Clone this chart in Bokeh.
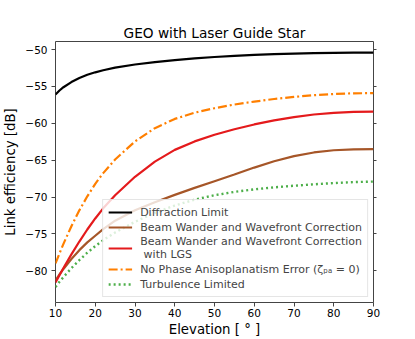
from bokeh.plotting import figure
from bokeh.models import FixedTicker, LinearAxis, Range1d, Legend, LegendItem
from bokeh.embed import file_html
from bokeh.resources import INLINE

elevation = [10, 11, 12, 14, 16, 18, 20, 22, 25, 30, 35, 40, 45, 50, 55, 60, 65, 70, 75, 80, 85, 90]
diffraction = [-56.1, -55.55, -55.1, -54.4, -53.85, -53.42, -53.08, -52.8, -52.45, -52.02, -51.7,
               -51.43, -51.2, -51.0, -50.84, -50.72, -50.62, -50.54, -50.48, -50.44, -50.41, -50.4]
beam_wander = [-81.3, -80.5, -79.75, -78.4, -77.2, -76.15, -75.25, -74.35, -73.2, -71.8, -70.7,
               -69.7, -68.75, -67.85, -66.95, -66.0, -65.15, -64.45, -63.95, -63.65, -63.52, -63.5]
beam_wander_lgs = [-81.6, -80.6, -79.63, -77.78, -76.03, -74.4, -72.9, -71.53, -69.75, -67.25, -65.2,
                   -63.6, -62.45, -61.55, -60.8, -60.15, -59.6, -59.15, -58.8, -58.57, -58.44, -58.4]
no_phase_aniso = [-79.0, -77.65, -76.35, -73.95, -71.8, -69.9, -68.2, -66.75, -64.9, -62.45, -60.65,
                  -59.4, -58.55, -57.95, -57.45, -57.05, -56.7, -56.42, -56.18, -56.02, -55.93, -55.9]
turbulence = [-82.2, -81.5, -80.85, -79.65, -78.55, -77.55, -76.65, -75.85, -74.8, -73.35, -72.15,
              -71.15, -70.35, -69.75, -69.3, -68.95, -68.68, -68.46, -68.27, -68.1, -67.97, -67.9]

x_ticks = [10, 20, 30, 40, 50, 60, 70, 80, 90]
y_ticks = [-80, -75, -70, -65, -60, -55, -50]
y_tick_labels = ["\u221280", "\u221275", "\u221270", "\u221265", "\u221260", "\u221255", "\u221250"]

labels = ["Diffraction Limit",
          "Beam Wander and Wavefront Correction",
          "Beam Wander and Wavefront Correction\n with LGS",
          "No Phase Anisoplanatism Error (\u03b6\u209a\u2090 = 0)",
          "Turbulence Limited"]

p = figure(width=415, height=339, output_backend="svg", toolbar_location=None,
           x_range=Range1d(10, 90), y_range=Range1d(-84.3, -48.9),
           title="GEO with Laser Guide Star",
           min_border_left=52, min_border_right=42, min_border_top=41, min_border_bottom=37)

p.title.align = "center"
p.title.text_font = "DejaVu Sans"
p.title.text_font_style = "normal"
p.title.text_font_size = "13.7px"
p.title.text_color = "black"
p.title.standoff = 1

p.xgrid.visible = False
p.ygrid.visible = False
p.outline_line_color = "#444444"
p.outline_line_width = 1
p.background_fill_color = "white"
p.border_fill_color = "white"

for ax in p.xaxis + p.yaxis:
    ax.axis_line_color = None
    ax.major_tick_line_color = "#444444"
    ax.major_tick_in = 0
    ax.major_tick_out = 4
    ax.minor_tick_line_color = None
    ax.major_label_text_font = "DejaVu Sans"
    ax.major_label_text_font_size = "10.5px"
    ax.major_label_text_color = "black"
    ax.axis_label_text_font = "DejaVu Sans"
    ax.axis_label_text_font_size = "13.3px"
    ax.axis_label_text_font_style = "normal"
    ax.axis_label_text_color = "black"
    ax.major_label_standoff = 2
    ax.axis_label_standoff = 2

p.yaxis.major_label_standoff = 4
p.yaxis.axis_label_standoff = 4

p.xaxis.ticker = FixedTicker(ticks=x_ticks)
p.yaxis.ticker = FixedTicker(ticks=y_ticks)
p.yaxis.major_label_overrides = {t: l for t, l in zip(y_ticks, y_tick_labels)}
p.xaxis.axis_label = "Elevation [ \u00b0 ]"
p.yaxis.axis_label = "Link efficiency [dB]"

right = LinearAxis(ticker=FixedTicker(ticks=y_ticks), axis_line_color=None,
                   major_tick_line_color="#444444", major_tick_in=0, major_tick_out=3,
                   minor_tick_line_color=None, major_label_text_color=None,
                   major_label_text_font_size="1px", major_label_standoff=0)
p.add_layout(right, "right")

r1 = p.line(elevation, diffraction, line_color="black", line_width=2.2)
r2 = p.line(elevation, beam_wander, line_color="#a65628", line_width=2.2)
r3 = p.line(elevation, beam_wander_lgs, line_color="#e41a1c", line_width=2.2)
r4 = p.line(elevation, no_phase_aniso, line_color="#ff7f00", line_width=2.2, line_dash="9 3 2 3")
r5 = p.line(elevation, turbulence, line_color="#4daf4a", line_width=2.4, line_dash="2 3")

legend = Legend(items=[LegendItem(label=l, renderers=[r]) for l, r in
                       zip(labels, [r1, r2, r3, r4, r5])],
                location="bottom_right", margin=5, padding=5, spacing=1,
                label_text_font="DejaVu Sans", label_text_font_size="11px",
                label_height=14, glyph_height=14, glyph_width=24, label_standoff=8,
                background_fill_color="white", background_fill_alpha=0.8,
                border_line_color="#cccccc", border_line_width=1)
p.add_layout(legend, "center")

open("out.html", "w").write(file_html(p, INLINE))
